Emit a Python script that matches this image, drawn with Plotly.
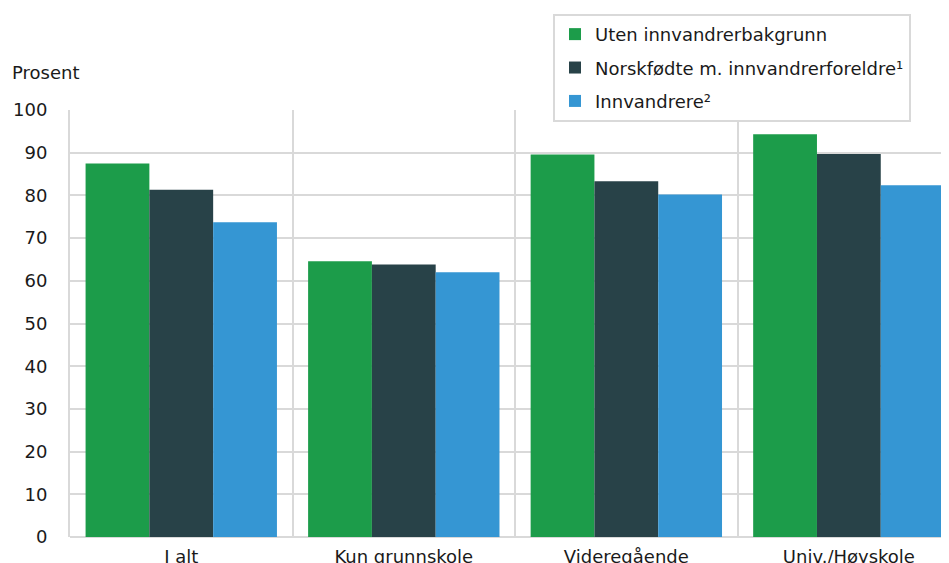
import plotly.graph_objects as go

categories = ["I alt", "Kun grunnskole", "Videregående", "Univ./Høyskole"]
series_names = ["Uten innvandrerbakgrunn", "Norskfødte m. innvandrerforeldre¹", "Innvandrere²"]
uten = [87.5, 64.6, 89.6, 94.3]
norskfodte = [81.3, 63.8, 83.3, 89.7]
innvandrere = [73.7, 62.0, 80.2, 82.4]
colors = ["#1C9C4A", "#284248", "#3596D3"]
y_ticks = [0, 10, 20, 30, 40, 50, 60, 70, 80, 90, 100]

fig = go.Figure()
for i, (name, vals) in enumerate(zip(series_names, [uten, norskfodte, innvandrere])):
    fig.add_trace(go.Bar(
        x=categories, y=vals, name=name,
        marker=dict(color=colors[i], line=dict(width=0)),
        legendgroup=str(i),
    ))

font = "DejaVu Sans, Liberation Sans, sans-serif"
txt = "#1a1a1a"
grid = "#d9d9d9"
# page body has an 8px margin; figure is sized to fill the rest of the window
fig.update_layout(
    width=941, height=555,
    margin=dict(l=62, r=0, t=102, b=26, autoexpand=False),
    paper_bgcolor="white", plot_bgcolor="white",
    barmode="group", bargap=0.14, bargroupgap=0,
    font=dict(family=font, size=18, color=txt),
    showlegend=True,
    legend=dict(
        x=0.5495, y=1.225, xanchor="left", yanchor="top",
        bordercolor=grid, borderwidth=2, bgcolor="white",
        font=dict(family=font, size=18, color=txt),
        tracegroupgap=7, traceorder="grouped",
        itemclick=False,
    ),
    xaxis=dict(
        type="category", range=[-0.5, 3.45], automargin=False,
        tickson="boundaries", showgrid=True, gridcolor=grid, gridwidth=2,
        ticks="", showline=False, zeroline=False, ticklabelstandoff=7,
        tickfont=dict(family=font, size=18, color=txt),
    ),
    yaxis=dict(
        range=[0, 100], tickvals=y_ticks, showgrid=True, automargin=False,
        gridcolor=grid, gridwidth=2, zeroline=True, zerolinecolor=grid,
        zerolinewidth=2, ticks="", ticklabelstandoff=17,
        showline=True, linecolor=grid, linewidth=2,
        tickfont=dict(family=font, size=18, color=txt),
    ),
    annotations=[dict(
        text="Prosent", xref="paper", yref="paper", x=-0.0683, y=1.0867,
        xanchor="left", yanchor="middle", showarrow=False,
        font=dict(family=font, size=18, color=txt),
    )],
)

fig.write_html("out.html")
